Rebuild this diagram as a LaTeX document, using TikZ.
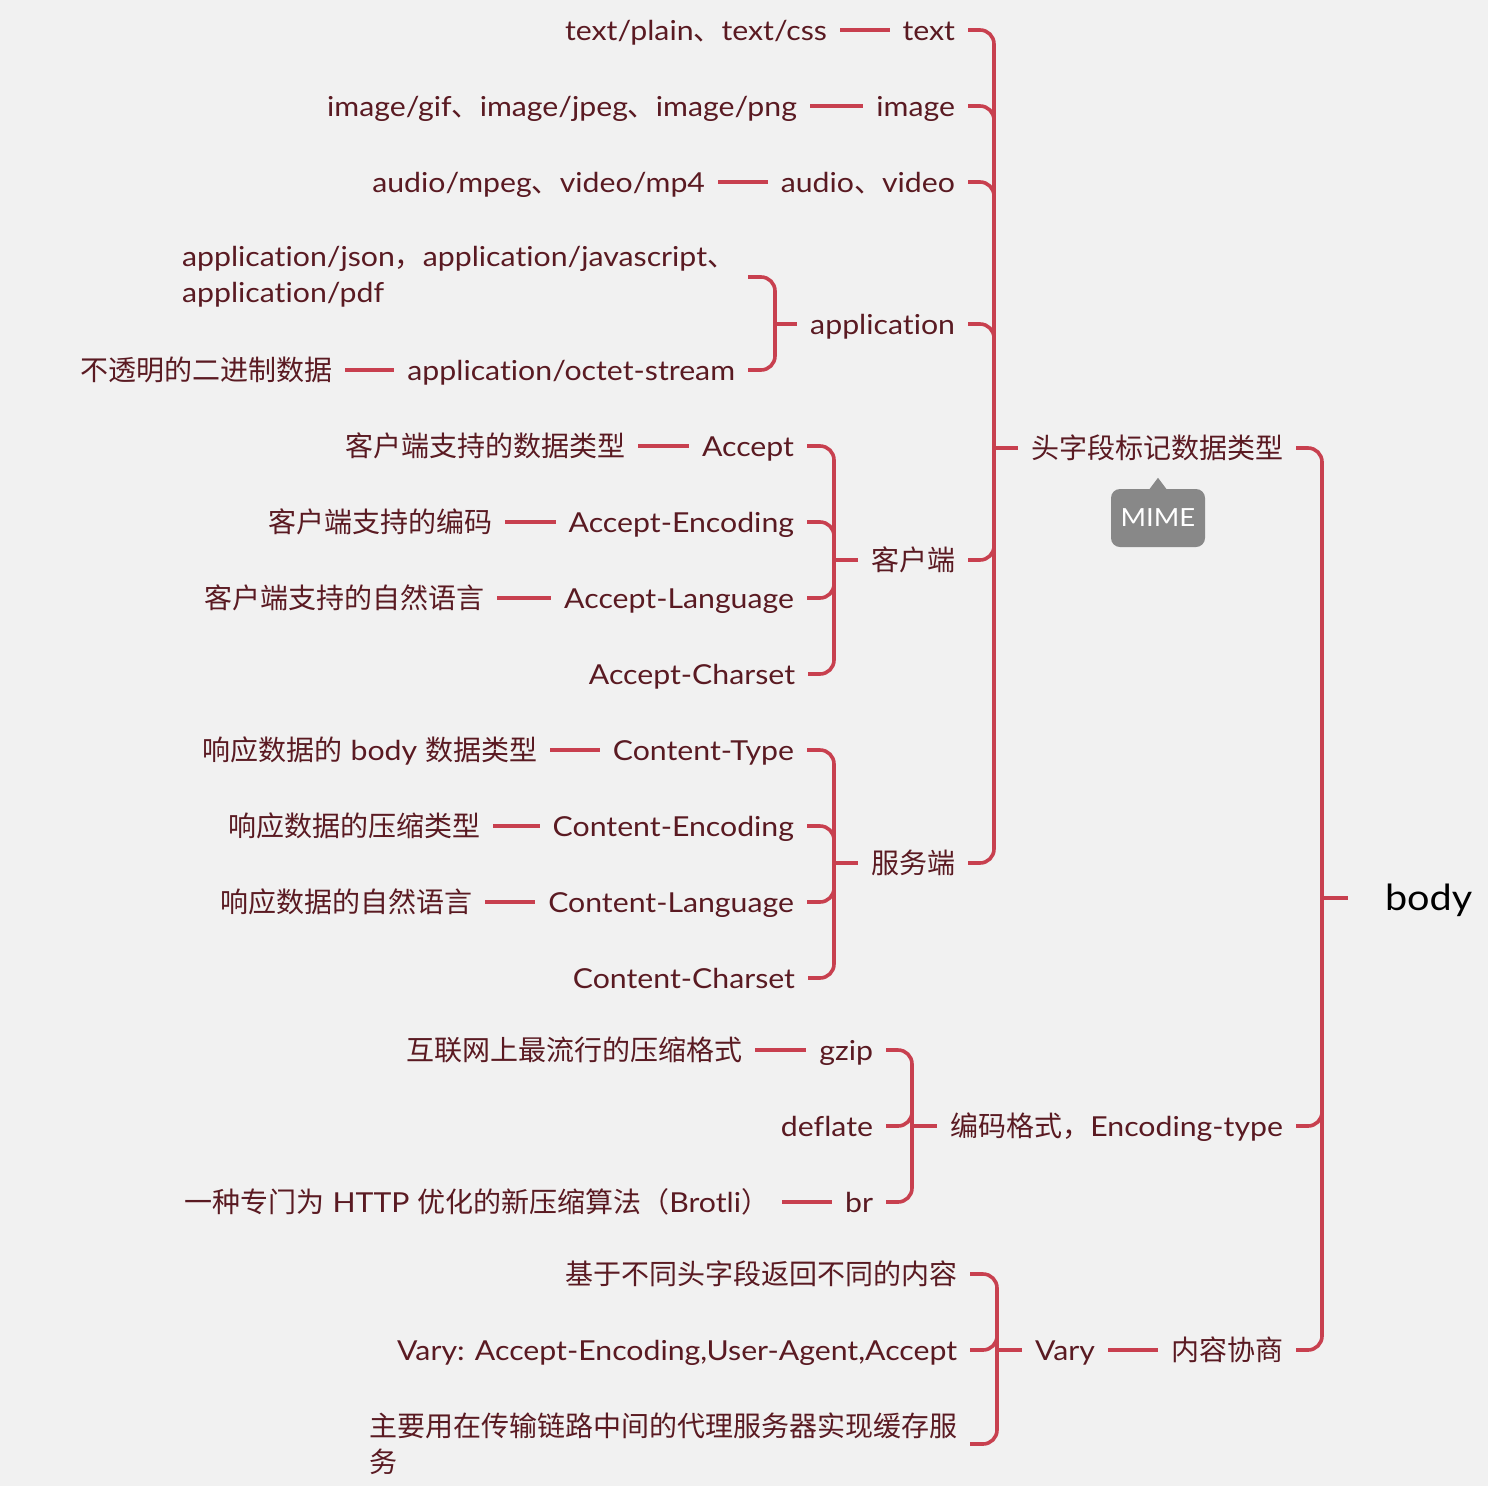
\documentclass[tikz,border=0pt]{standalone}
\usepackage{fontspec}
\setmainfont{Lato}[FakeStretch=1.1,Ligatures=NoCommon]
\newfontfamily\latinfont{Lato}[FakeStretch=1.1,Ligatures=NoCommon]
\newfontfamily\cjkfont{Noto Sans CJK SC}[Scale=1.018]
\XeTeXinterchartokenstate=1
\newXeTeXintercharclass\CJKcls
\newcount\cjkc
\def\setcjkrange#1#2{\cjkc=#1\relax\loop\XeTeXcharclass\cjkc=\CJKcls\relax\ifnum\cjkc<#2\relax\advance\cjkc by 1\relax\repeat}
\setcjkrange{"3000}{"303F}
\setcjkrange{"4E00}{"9FFF}
\setcjkrange{"FF00}{"FFEF}
\XeTeXinterchartoks 0 \CJKcls = {\cjkfont}
\XeTeXinterchartoks 4095 \CJKcls = {\cjkfont}
\XeTeXinterchartoks \CJKcls 0 = {\latinfont}
\XeTeXinterchartoks \CJKcls 4095 = {\latinfont}
\definecolor{bg}{HTML}{F1F1F1}
\definecolor{ln}{HTML}{C8404F}
\definecolor{tx}{HTML}{5A1A22}
\definecolor{mimegray}{HTML}{888888}
\begin{document}
\begin{tikzpicture}[x=1pt,y=-1pt,
  lbl/.style={font=\fontsize{27.5}{36}\selectfont, text=tx, inner sep=0pt, outer xsep=13pt, outer ysep=0pt, text height=20pt, text depth=0pt, anchor=east},
  ml/.style={font=\fontsize{27.5}{36}\selectfont, text=tx, inner sep=0pt, outer xsep=13pt, outer ysep=0pt, align=left, anchor=east},
  conn/.style={draw=ln, line width=3.6pt, rounded corners=14pt},
  link/.style={draw=ln, line width=3.6pt}]
\fill[bg] (0,0) rectangle (1488,1486);
\useasboundingbox (0,0) rectangle (1488,1486);

\node[font=\fontsize{36}{44}\selectfont, text=black, inner sep=0pt, outer xsep=37pt, text height=25.4pt, text depth=0pt, anchor=west] (body) at (1348,898) {body};

\node[lbl] (H) at (1296,448) {头字段标记数据类型};
\node[lbl] (E) at (1296,1126) {编码格式，Encoding-type};
\node[lbl] (N) at (1296,1350) {内容协商};

\node[lbl] (t1) at (968,30) {text};
\node[lbl] (t2) at (968,106) {image};
\node[lbl] (t3) at (968,182) {audio、video};
\node[lbl] (t4) at (968,324) {application};
\node[lbl] (t5) at (968,560) {客户端};
\node[lbl] (t6) at (968,863) {服务端};

\node[lbl] (t1a) at (840,30) {text/plain、text/css};
\node[lbl] (t2a) at (810,106) {image/gif、image/jpeg、image/png};
\node[lbl] (t3a) at (718,182) {audio/mpeg、video/mp4};
\node[ml] (a1) at (748,277) {application/json，application/javascript、\\application/pdf};
\node[lbl] (a2) at (748,370) {application/octet-stream};
\node[lbl] (a2a) at (345,370) {不透明的二进制数据};

\node[lbl] (c1) at (807,446) {Accept};
\node[lbl] (c1a) at (638,446) {客户端支持的数据类型};
\node[lbl] (c2) at (807,522) {Accept-Encoding};
\node[lbl] (c2a) at (505,522) {客户端支持的编码};
\node[lbl] (c3) at (807,598) {Accept-Language};
\node[lbl] (c3a) at (497,598) {客户端支持的自然语言};
\node[lbl] (c4) at (808,674) {Accept-Charset};

\node[lbl] (s1) at (807,750) {Content-Type};
\node[lbl] (s1a) at (550,750) {响应数据的 body 数据类型};
\node[lbl] (s2) at (807,826) {Content-Encoding};
\node[lbl] (s2a) at (493,826) {响应数据的压缩类型};
\node[lbl] (s3) at (807,902) {Content-Language};
\node[lbl] (s3a) at (485,902) {响应数据的自然语言};
\node[lbl] (s4) at (808,978) {Content-Charset};

\node[lbl] (e1) at (886,1050) {gzip};
\node[lbl] (e1a) at (755,1050) {互联网上最流行的压缩格式};
\node[lbl] (e2) at (886,1126) {deflate};
\node[lbl] (e3) at (886,1202) {br};
\node[lbl] (e3a) at (782,1202) {一种专门为 HTTP 优化的新压缩算法（Brotli）};

\node[lbl] (v) at (1108,1350) {Vary};
\node[lbl] (v1) at (970,1274) {基于不同头字段返回不同的内容};
\node[lbl] (v2) at (970,1350) {Vary: Accept-Encoding,User-Agent,Accept};
\node[ml] (v3) at (970,1444) {主要用在传输链路中间的代理服务器实现缓存服\\务};

\coordinate (bB) at (1322,898);
\coordinate (bH) at (994,448);
\coordinate (bA) at (775,324);
\coordinate (bC) at (834,560);
\coordinate (bS) at (834,863);
\coordinate (bE) at (912,1126);
\coordinate (bV) at (997,1350);

\draw[link] (bB) -- (body.west);
\foreach \c in {H,E,N} \draw[conn] (\c.east) -| (bB);
\draw[link] (bH) -- (H.west);
\foreach \c in {t1,t2,t3,t4,t5,t6} \draw[conn] (\c.east) -| (bH);
\draw[link] (t1a.east) -- (t1.west);
\draw[link] (t2a.east) -- (t2.west);
\draw[link] (t3a.east) -- (t3.west);
\draw[link] (bA) -- (t4.west);
\foreach \c in {a1,a2} \draw[conn] (\c.east) -| (bA);
\draw[link] (a2a.east) -- (a2.west);
\draw[link] (bC) -- (t5.west);
\foreach \c in {c1,c2,c3,c4} \draw[conn] (\c.east) -| (bC);
\draw[link] (c1a.east) -- (c1.west);
\draw[link] (c2a.east) -- (c2.west);
\draw[link] (c3a.east) -- (c3.west);
\draw[link] (bS) -- (t6.west);
\foreach \c in {s1,s2,s3,s4} \draw[conn] (\c.east) -| (bS);
\draw[link] (s1a.east) -- (s1.west);
\draw[link] (s2a.east) -- (s2.west);
\draw[link] (s3a.east) -- (s3.west);
\draw[link] (bE) -- (E.west);
\foreach \c in {e1,e2,e3} \draw[conn] (\c.east) -| (bE);
\draw[link] (e1a.east) -- (e1.west);
\draw[link] (e3a.east) -- (e3.west);
\draw[link] (v.east) -- (N.west);
\draw[link] (bV) -- (v.west);
\foreach \c in {v1,v2,v3} \draw[conn] (\c.east) -| (bV);

\node[fill=mimegray, rounded corners=9pt, minimum width=94pt, minimum height=58pt, inner sep=0pt, text=white, font=\fontsize{25}{30}\selectfont] (mime) at (1158,518) {MIME};
\fill[mimegray] ([xshift=-9pt,yshift=-1pt]mime.north) -- ([yshift=11pt]mime.north) -- ([xshift=9pt,yshift=-1pt]mime.north) -- cycle;
\end{tikzpicture}
\end{document}
